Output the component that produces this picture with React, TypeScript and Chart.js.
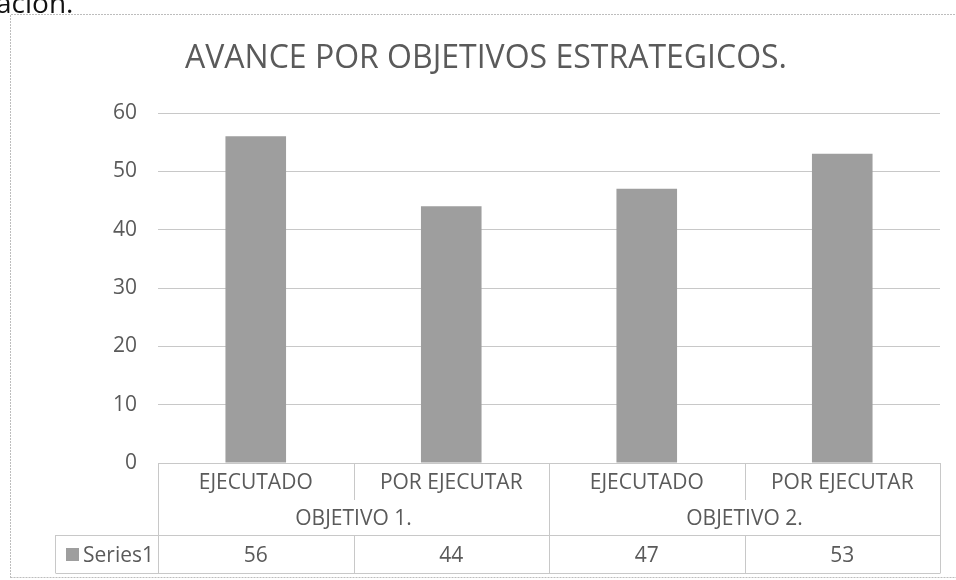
import React, { useEffect, useRef } from "react";
import { Chart, registerables } from "chart.js";

Chart.register(...registerables);

const TITLE = "AVANCE POR OBJETIVOS ESTRATEGICOS.";
const CATEGORIES = ["EJECUTADO", "POR EJECUTAR", "EJECUTADO", "POR EJECUTAR"];
const GROUPS = ["OBJETIVO 1.", "OBJETIVO 2."];
const GROUP_SPAN = 2;
const SERIES_NAME = "Series1";
const VALUES = [56, 44, 47, 53];
const Y_MIN = 0;
const Y_MAX = 60;
const Y_STEP = 10;
const PAGE_FRAGMENT = "ación.";

const FONT = '"Open Sans", "Noto Sans", sans-serif';
const TEXT = "#5a5a5a";
const LINE = "#c8c8c8";
const BAR = "#9e9e9e";

const tablePlugin = {
  id: "dataTable",
  afterDraw(chart: any) {
    const ctx = chart.ctx as CanvasRenderingContext2D;
    const area = chart.chartArea;
    const x = chart.scales.x;
    const n = CATEGORIES.length;
    const colW = (area.right - area.left) / n;
    const top = area.bottom;
    const row1 = top + 37;
    const row2 = top + 72;
    const bottom = top + 110;
    const legendLeft = 55;

    ctx.save();
    // page fragment
    ctx.fillStyle = "#111";
    ctx.font = `28px ${FONT}`;
    ctx.textAlign = "left";
    ctx.textBaseline = "alphabetic";
    ctx.fillText(PAGE_FRAGMENT, -4, 13);

    // outer chart border
    ctx.strokeStyle = "#bdbdbd";
    ctx.lineWidth = 1;
    ctx.setLineDash([2, 1]);
    ctx.beginPath();
    ctx.moveTo(10.5, 578);
    ctx.lineTo(10.5, 14.5);
    ctx.lineTo(956, 14.5);
    ctx.moveTo(10.5, 577.5);
    ctx.lineTo(956, 577.5);
    ctx.stroke();
    ctx.setLineDash([]);

    // title
    ctx.fillStyle = TEXT;
    ctx.font = `32px ${FONT}`;
    ctx.textAlign = "center";
    ctx.textBaseline = "alphabetic";
    ctx.fillText(TITLE, 486, 68);

    // table lines
    ctx.strokeStyle = LINE;
    ctx.lineWidth = 1;
    ctx.beginPath();
    const L = Math.round(area.left) + 0.5;
    const R = Math.round(area.right) + 0.5;
    ctx.moveTo(L, top + 0.5);
    ctx.lineTo(R, top + 0.5);
    ctx.moveTo(legendLeft + 0.5, row2 + 0.5);
    ctx.lineTo(R, row2 + 0.5);
    ctx.moveTo(legendLeft + 0.5, bottom + 0.5);
    ctx.lineTo(R, bottom + 0.5);
    ctx.moveTo(legendLeft + 0.5, row2);
    ctx.lineTo(legendLeft + 0.5, bottom);
    for (let i = 0; i <= n; i++) {
      const xx = Math.round(area.left + colW * i) + 0.5;
      const isGroupEdge = i % GROUP_SPAN === 0;
      if (isGroupEdge) {
        ctx.moveTo(xx, top);
        ctx.lineTo(xx, bottom);
      } else {
        ctx.moveTo(xx, top);
        ctx.lineTo(xx, row1);
        ctx.moveTo(xx, row2);
        ctx.lineTo(xx, bottom);
      }
    }
    ctx.stroke();

    // texts
    ctx.fillStyle = TEXT;
    ctx.font = `21px ${FONT}`;
    ctx.textAlign = "center";
    ctx.textBaseline = "alphabetic";
    CATEGORIES.forEach((c, i) => {
      const cx = x.getPixelForValue(i);
      ctx.fillText(c, cx, top + 26);
      ctx.fillText(String(VALUES[i]), cx, row2 + 27);
    });
    GROUPS.forEach((g, gi) => {
      const cx = area.left + colW * (gi * GROUP_SPAN + GROUP_SPAN / 2);
      ctx.fillText(g, cx, row1 + 25);
    });
    // legend key
    ctx.fillStyle = BAR;
    ctx.fillRect(66, row2 + 13, 13, 13);
    ctx.fillStyle = TEXT;
    ctx.textAlign = "left";
    ctx.fillText(SERIES_NAME, 83, row2 + 27);
    ctx.restore();
  },
};

export default function App() {
  const ref = useRef<HTMLCanvasElement | null>(null);
  useEffect(() => {
    if (!ref.current) return;
    const chart = new Chart(ref.current, {
      type: "bar",
      data: {
        labels: CATEGORIES,
        datasets: [
          {
            label: SERIES_NAME,
            data: VALUES,
            backgroundColor: BAR,
            borderWidth: 0,
            categoryPercentage: 1,
            barPercentage: 0.31,
          },
        ],
      },
      options: {
        responsive: false,
        animation: false,
        maintainAspectRatio: false,
        layout: { padding: { left: 98, right: 16, top: 113, bottom: 117 } },
        plugins: {
          legend: { display: false },
          title: { display: false },
          tooltip: { enabled: false },
        },
        scales: {
          x: { display: false, offset: true },
          y: {
            min: Y_MIN,
            max: Y_MAX,
            afterFit: (s: any) => {
              s.width = 60;
            },
            ticks: {
              stepSize: Y_STEP,
              padding: 21,
              color: TEXT,
              font: { family: FONT, size: 21 },
            },
            grid: { color: LINE, drawTicks: false },
            border: { display: false },
          },
        },
      },
      plugins: [tablePlugin],
    });
    return () => chart.destroy();
  }, []);
  return (
    <canvas
      ref={ref}
      width={956}
      height={580}
      style={{ position: "fixed", left: 0, top: 0, width: 956, height: 580, background: "#fff" }}
    />
  );
}
